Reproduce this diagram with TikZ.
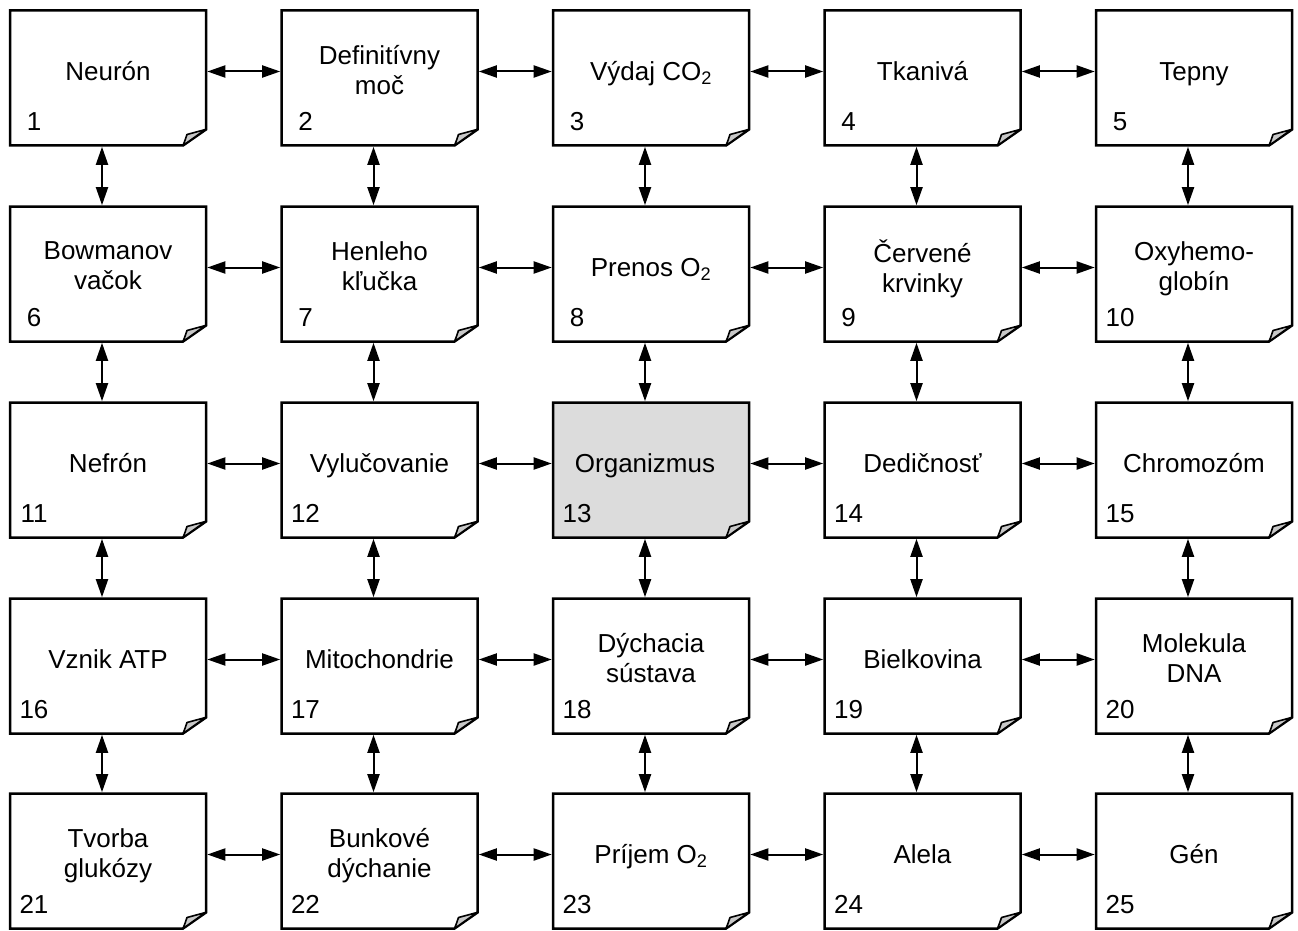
\documentclass[tikz,border=0pt]{standalone}
\usepackage{fontspec}
\setmainfont{Liberation Sans}
\usetikzlibrary{arrows.meta}
\definecolor{foldgray}{HTML}{C8C8C8}
\definecolor{hilite}{HTML}{DCDCDC}
\tikzset{
  boxline/.style={draw=black, line width=2.5pt, line join=miter},
  lbl/.style={font=\fontsize{26}{30}\selectfont, align=center, inner sep=0pt,
    execute at begin node=\strut, execute at end node=\strut},
  num/.style={font=\fontsize{26}{30}\selectfont, inner sep=0pt},
  dbl/.style={line width=2pt, {Triangle[length=18pt,width=12pt]}-{Triangle[length=18pt,width=12pt]}}
}
\newcommand\notebox[7][0]{%
\begin{scope}[shift={(#3,#4)}]
\draw[boxline, fill=#7] (0,0) -- (196,0) -- (196,119) -- (173,135) -- (0,135) -- cycle;
\draw[black, line width=1.6pt, line join=round, fill=foldgray] (173,135) .. controls (175,130) and (176,127) .. (177,124) -- (195.5,119) -- cycle;
\node[lbl] (#2) at (98+#1,64) {#5};
\node[num] (#2n) at (24,111) {#6};
\coordinate (#2-l) at (-1.3,61);
\coordinate (#2-r) at (197.3,61);
\coordinate (#2-t) at (92,-1.3);
\coordinate (#2-b) at (92,136.3);
\end{scope}}
\begin{document}
\begin{tikzpicture}[x=1pt,y=-1pt]
\useasboundingbox (0,0) rectangle (1298,931);
\fill[white] (0,0) rectangle (1298,931);
% row 1
\notebox{b1}{10}{10.5}{Neurón}{1}{white}
\notebox{b2}{281.5}{10.5}{Definitívny\\moč}{2}{white}
\notebox{b3}{553}{10.5}{Výdaj CO\textsubscript{2}}{3}{white}
\notebox{b4}{824.5}{10.5}{Tkanivá}{4}{white}
\notebox{b5}{1096}{10.5}{Tepny}{5}{white}
% row 2
\notebox{b6}{10}{206.5}{Bowmanov\\vačok}{6}{white}
\notebox{b7}{281.5}{206.5}{Henleho\\kľučka}{7}{white}
\notebox{b8}{553}{206.5}{Prenos O\textsubscript{2}}{8}{white}
\notebox{b9}{824.5}{206.5}{Červené\\krvinky}{9}{white}
\notebox{b10}{1096}{206.5}{Oxyhemo-\\globín}{10}{white}
% row 3
\notebox{b11}{10}{402.5}{Nefrón}{11}{white}
\notebox{b12}{281.5}{402.5}{Vylučovanie}{12}{white}
\notebox[-6]{b13}{553}{402.5}{Organizmus}{13}{hilite}
\notebox{b14}{824.5}{402.5}{Dedičnosť}{14}{white}
\notebox{b15}{1096}{402.5}{Chromozóm}{15}{white}
% row 4
\notebox{b16}{10}{598.5}{Vznik ATP}{16}{white}
\notebox{b17}{281.5}{598.5}{Mitochondrie}{17}{white}
\notebox{b18}{553}{598.5}{Dýchacia\\sústava}{18}{white}
\notebox{b19}{824.5}{598.5}{Bielkovina}{19}{white}
\notebox{b20}{1096}{598.5}{Molekula\\DNA}{20}{white}
% row 5
\notebox{b21}{10}{793.5}{Tvorba\\glukózy}{21}{white}
\notebox{b22}{281.5}{793.5}{Bunkové\\dýchanie}{22}{white}
\notebox{b23}{553}{793.5}{Príjem O\textsubscript{2}}{23}{white}
\notebox{b24}{824.5}{793.5}{Alela}{24}{white}
\notebox{b25}{1096}{793.5}{Gén}{25}{white}
% horizontal connectors
\foreach \r in {0,5,10,15,20}{
  \foreach \c in {1,2,3,4}{
    \pgfmathtruncatemacro\a{\r+\c}
    \pgfmathtruncatemacro\b{\r+\c+1}
    \draw[dbl] (b\a-r) -- (b\b-l);
  }
}
% vertical connectors
\foreach \a in {1,...,20}{
  \pgfmathtruncatemacro\b{\a+5}
  \draw[dbl] (b\a-b) -- (b\b-t);
}
\end{tikzpicture}
\end{document}
